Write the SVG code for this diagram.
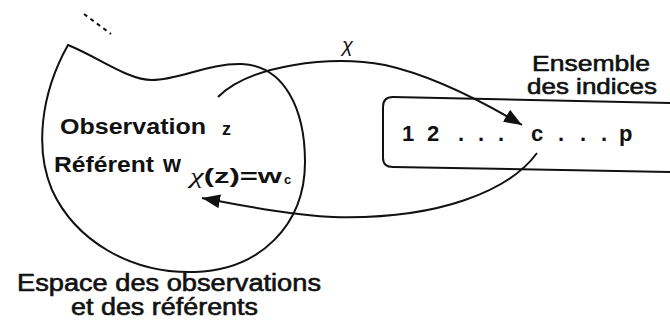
<svg xmlns="http://www.w3.org/2000/svg" width="670" height="324" viewBox="0 0 670 324">
<defs>
<style>
.t{font-family:"Liberation Sans",Arial,sans-serif;fill:#111;}
.b{font-weight:bold;}
.m{stroke:#111;stroke-width:0.6;}
.ln{fill:none;stroke:#111;stroke-width:2;}
</style>
<marker id="ah" markerWidth="20" markerHeight="14" refX="18" refY="7" orient="auto" markerUnits="userSpaceOnUse">
<path d="M0,0 L18,7 L0,14 Z" fill="#111"/>
</marker>
</defs>
<rect width="670" height="324" fill="#fff"/>
<g id="espace">
<path class="ln" d="M68,45 C100,58 128,80 152,80 C180,80 208,63 242,64 C285,66 305,110 305,162 C305,225 260,270 195,272 C130,274 75,240 52,190 C35,150 40,95 68,45 Z"/>
<path class="ln" d="M84,14 L111,34" stroke-dasharray="4 4"/>
<text class="t b" x="60" y="134" font-size="22" textLength="146" lengthAdjust="spacingAndGlyphs">Observation</text>
<text class="t b" x="222" y="135" font-size="18">z</text>
<text class="t b" x="54" y="172" font-size="22" textLength="100" lengthAdjust="spacingAndGlyphs">Référent</text>
<text class="t b" x="163" y="172" font-size="23">w</text>
<text class="t b" x="190" y="183" font-size="21" textLength="92" lengthAdjust="spacingAndGlyphs"><tspan font-family="'Liberation Serif',serif" font-style="italic" font-weight="normal">χ</tspan>(z)=w</text>
<text class="t b" x="284" y="184" font-size="13">c</text>
<text class="t m" x="17" y="291" font-size="23" textLength="304" lengthAdjust="spacingAndGlyphs">Espace des observations</text>
<text class="t m" x="71" y="315" font-size="23" textLength="187" lengthAdjust="spacingAndGlyphs">et des référents</text>
</g>
<g id="indices">
<path class="ln" d="M672,103 L393,97 Q383,97 383,107 L383,158 Q383,167 393,167 L672,172"/>
<text class="t b" y="141" font-size="22"><tspan x="402">1</tspan><tspan x="427">2</tspan><tspan x="458">.</tspan><tspan x="478">.</tspan><tspan x="498">.</tspan><tspan x="531">c</tspan><tspan x="558">.</tspan><tspan x="580">.</tspan><tspan x="601">.</tspan><tspan x="619">p</tspan></text>
<text class="t m" x="532" y="71" font-size="22" textLength="118" lengthAdjust="spacingAndGlyphs">Ensemble</text>
<text class="t m" x="527" y="94" font-size="22" textLength="130" lengthAdjust="spacingAndGlyphs">des indices</text>
</g>
<g id="connectors">
<path class="ln" d="M218,97 C250,65 330,55 385,65 C430,75 480,100 522,125" marker-end="url(#ah)"/>
<text class="t" x="342" y="52" font-size="20" font-family="'Liberation Serif',serif" font-style="italic">χ</text>
<path class="ln" d="M537,153 C510,190 440,220 333,217 C290,215 240,205 202,198" marker-end="url(#ah)"/>
</g>
</svg>
